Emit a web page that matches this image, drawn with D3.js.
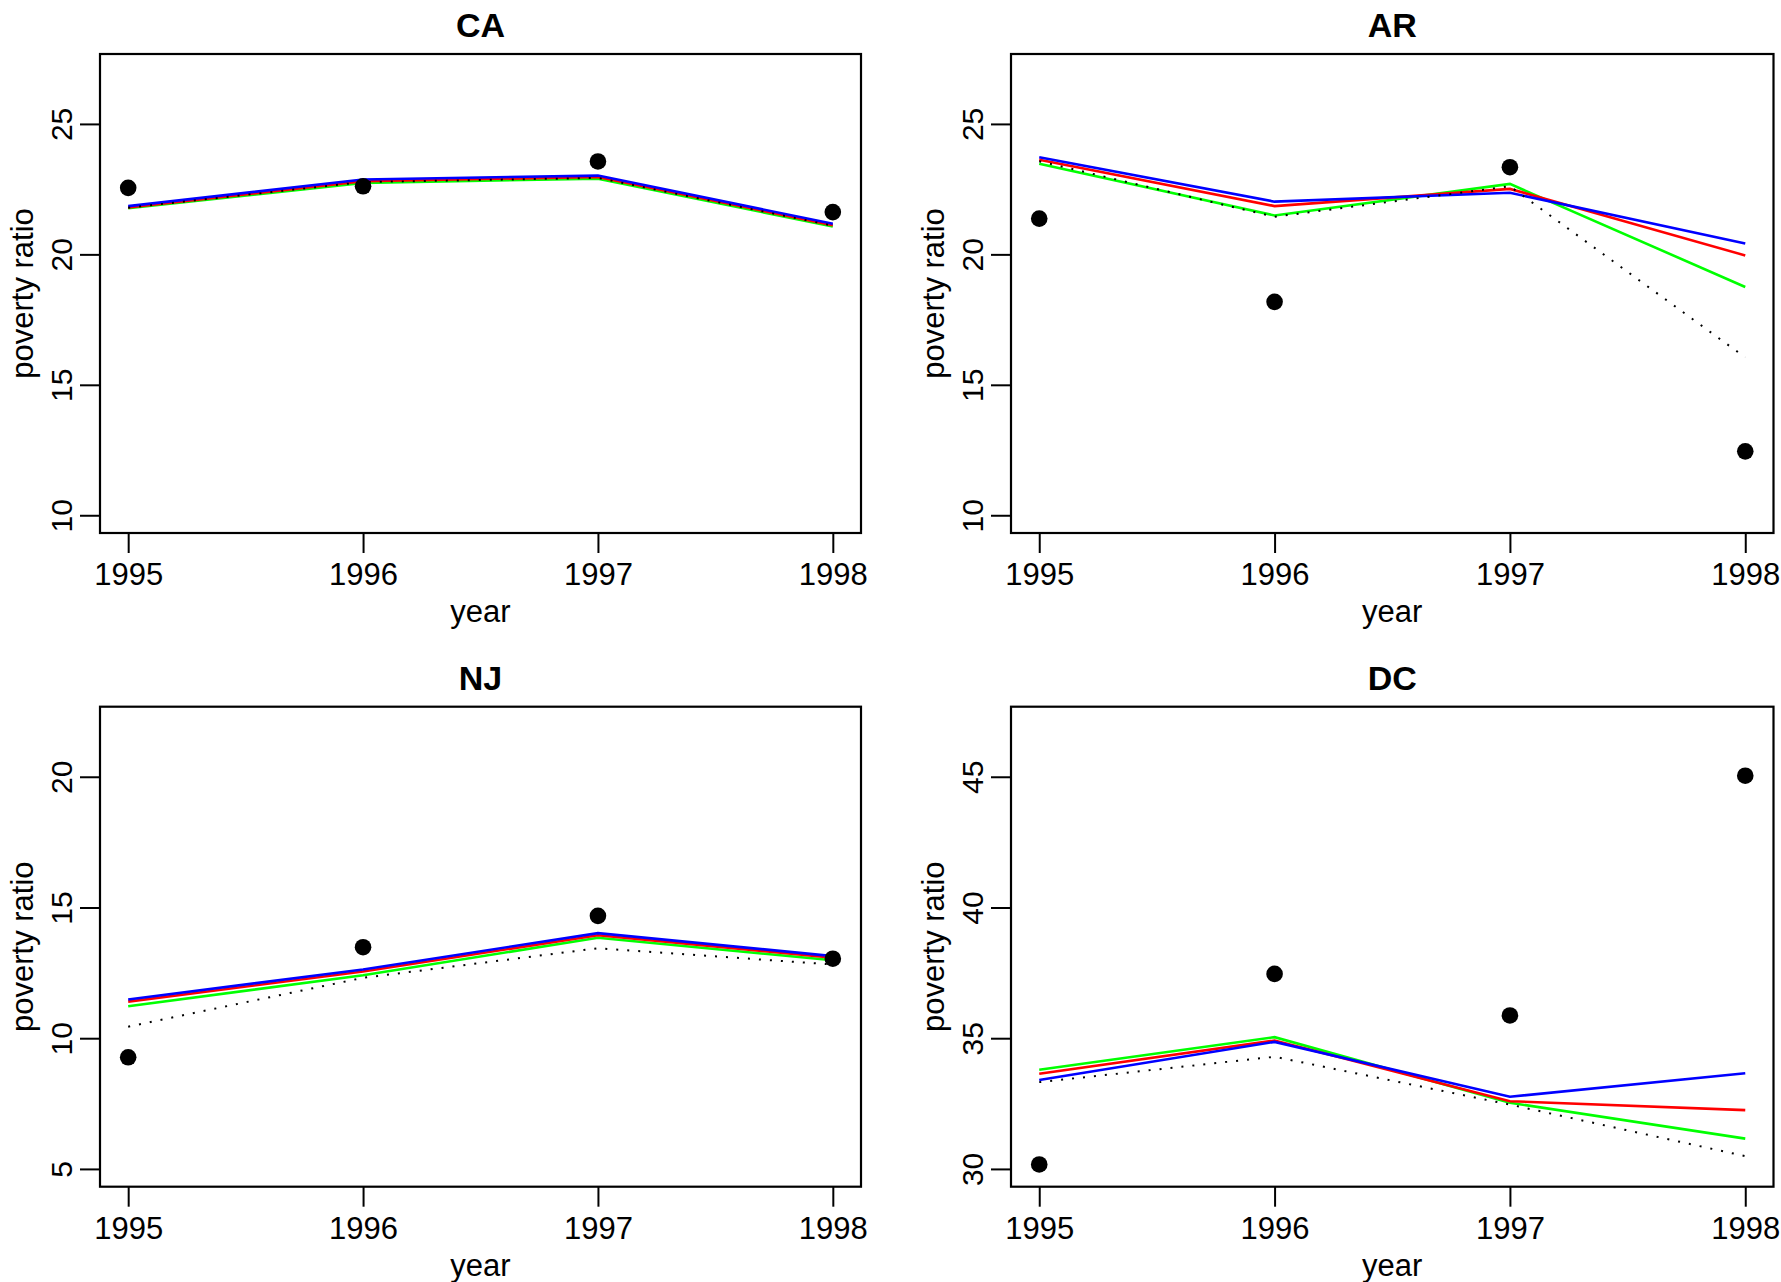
<!DOCTYPE html>
<html>
<head>
<meta charset="utf-8">
<script src="https://cdn.jsdelivr.net/npm/d3@7"></script>
<style>
  body { margin: 0; background: #fff; }
  svg { display: block; font-family: "Liberation Sans", Arial, Helvetica, sans-serif; }
</style>
</head>
<body>
<div class="chart"></div>
<script>
// data
var years = [1995, 1996, 1997, 1998];
var states = ["CA", "AR", "NJ", "DC"];
var yLimits = [[10, 27], [10, 27], [5, 22], [30, 47]];
var yTicks = [[10, 15, 20, 25], [10, 15, 20, 25], [5, 10, 15, 20], [30, 35, 40, 45]];

// observed points, one row per state
var observed = [
  [22.55, 22.61, 23.56, 21.62],
  [21.37, 18.18, 23.34, 12.45],
  [9.27, 13.48, 14.68, 13.04],
  [30.17, 37.46, 35.87, 45.04]
];
// fitted lines
var fitBlue = [
  [21.85, 22.87, 23.02, 21.17],
  [23.72, 22.02, 22.36, 20.42],
  [11.48, 12.63, 14.02, 13.14],
  [33.40, 34.86, 32.76, 33.66]
];
var fitRed = [
  [21.80, 22.80, 22.97, 21.12],
  [23.63, 21.85, 22.51, 19.96],
  [11.40, 12.55, 13.94, 13.08],
  [33.64, 34.91, 32.59, 32.25]
];
var fitGreen = [
  [21.77, 22.74, 22.90, 21.07],
  [23.47, 21.49, 22.70, 18.75],
  [11.22, 12.41, 13.84, 12.98],
  [33.79, 35.04, 32.53, 31.16]
];
var fitDotted = [
  [21.79, 22.77, 22.93, 21.10],
  [23.57, 21.44, 22.61, 16.05],
  [10.44, 12.31, 13.44, 12.82],
  [33.32, 34.29, 32.46, 30.49]
];

var svgWidth = 1781;
var svgHeight = 1282;

// panel boxes
var cols = [[100, 861], [1011, 1773.5]];
var rows = [[54, 533], [706.7, 1186.7]];

var svg = d3.select(".chart")
  .append("svg")
  .attr("width", svgWidth)
  .attr("height", svgHeight);

// R-style 4% axis expansion
function expand(lim) {
  var d = (lim[1] - lim[0]) * 0.04;
  return [lim[0] - d, lim[1] + d];
}

var series = [
  { data: fitGreen, color: "#00ff00", dash: null, width: 2.6 },
  { data: fitRed, color: "#ff0000", dash: null, width: 2.6 },
  { data: fitBlue, color: "#0000ff", dash: null, width: 2.6 },
  { data: fitDotted, color: "#000000", dash: "2,9", width: 2 }
];

states.forEach(function(state, i) {
  var c = cols[i % 2];
  var r = rows[Math.floor(i / 2)];

  var x = d3.scaleLinear()
    .domain(expand([1995, 1998]))
    .range(c);

  var y = d3.scaleLinear()
    .domain(expand(yLimits[i]))
    .range([r[1], r[0]]);

  var g = svg.append("g");

  // x axis
  var xAxis = d3.axisBottom(x).tickValues(years).tickFormat(d3.format("d")).tickSize(20).tickSizeOuter(0);
  var xg = g.append("g")
    .attr("transform", `translate(0, ${r[1]})`)
    .call(xAxis);
  xg.select(".domain").remove();
  xg.selectAll("line").attr("stroke", "#000").attr("stroke-width", 2);
  xg.selectAll("text")
    .attr("y", 52)
    .attr("dy", null)
    .attr("fill", "#000")
    .style("font-size", "31px");

  // y axis
  var yAxis = d3.axisLeft(y).tickValues(yTicks[i]).tickSize(20).tickSizeOuter(0);
  var yg = g.append("g")
    .attr("transform", `translate(${c[0]}, 0)`)
    .call(yAxis);
  yg.select(".domain").remove();
  yg.selectAll("line").attr("stroke", "#000").attr("stroke-width", 2);
  yg.selectAll("text")
    .attr("x", null)
    .attr("dy", null)
    .attr("text-anchor", "middle")
    .attr("transform", "translate(-28, 0) rotate(-90)")
    .attr("fill", "#000")
    .style("font-size", "30px");

  // box
  g.append("rect")
    .attr("x", c[0])
    .attr("y", r[0])
    .attr("width", c[1] - c[0])
    .attr("height", r[1] - r[0])
    .attr("fill", "none")
    .attr("stroke", "#000")
    .attr("stroke-width", 2.2);

  // titles
  g.append("text")
    .attr("x", (c[0] + c[1]) / 2)
    .attr("y", r[0] - 17)
    .attr("text-anchor", "middle")
    .style("font-size", "34px")
    .style("font-weight", "bold")
    .text(state);

  g.append("text")
    .attr("x", (c[0] + c[1]) / 2)
    .attr("y", r[1] + 89)
    .attr("text-anchor", "middle")
    .style("font-size", "31px")
    .text("year");

  g.append("text")
    .attr("transform", `translate(${c[0] - 67}, ${(r[0] + r[1]) / 2}) rotate(-90)`)
    .attr("text-anchor", "middle")
    .style("font-size", "31px")
    .text("poverty ratio");

  // lines
  var line = d3.line()
    .x(function(d, k) { return x(years[k]); })
    .y(function(d) { return y(d); });

  series.forEach(function(s) {
    g.append("path")
      .datum(s.data[i])
      .attr("d", line)
      .attr("fill", "none")
      .attr("stroke", s.color)
      .attr("stroke-width", s.width)
      .attr("stroke-dasharray", s.dash);
  });

  // observed points
  g.selectAll("circle")
    .data(observed[i])
    .enter()
    .append("circle")
    .attr("cx", function(d, k) { return x(years[k]); })
    .attr("cy", function(d) { return y(d); })
    .attr("r", 8.3)
    .attr("fill", "#000");
});
</script>
</body>
</html>
